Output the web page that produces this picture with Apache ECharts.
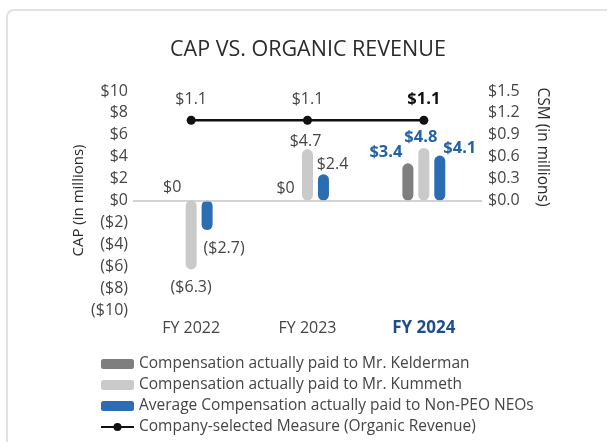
<!DOCTYPE html>
<html>
<head>
<meta charset="UTF-8">
<title>CAP vs. Organic Revenue</title>
<script src="https://cdn.jsdelivr.net/npm/echarts@6/dist/echarts.min.js"></script>
<style>
  html, body { margin: 0; padding: 0; background: #fff; }
  #wrap { position: relative; width: 607px; height: 442px; overflow: hidden; }
  #card { position: absolute; left: 6px; top: 9px; width: 700px; height: 500px;
          border: 2px solid #e2e2e2; border-radius: 8px; box-sizing: border-box; }
  #chart { position: absolute; left: 0; top: 0; width: 607px; height: 442px; }
</style>
</head>
<body>
<div id="wrap">
  <div id="card"></div>
  <div id="chart"></div>
</div>
<script>
  var years = ['FY 2022', 'FY 2023', 'FY 2024'];
  var kelderman = [0, 0, 3.4];
  var kummeth = [-6.3, 4.7, 4.8];
  var nonPeo = [-2.7, 2.4, 4.1];
  var organicRevenue = [1.1, 1.1, 1.1];

  var textColor = '#454545';
  var blueText = '#2462a8';
  var font = 'Open Sans';

  function money(v) {
    return v < 0 ? '($' + (-v) + ')' : '$' + v;
  }

  // per-bar label tweaks to sit like the original
  function barData(values, labels) {
    return values.map(function (v, i) {
      var item = { value: v };
      if (labels[i]) item.label = labels[i];
      return item;
    });
  }

  var boldBlue = { color: blueText, fontWeight: 'bold', fontSize: 16.5 };

  var chart = echarts.init(document.getElementById('chart'));
  chart.setOption({
    animation: false,
    textStyle: { fontFamily: font },
    title: {
      text: 'CAP VS. ORGANIC REVENUE',
      left: 165,
      top: 34,
      textStyle: { fontFamily: font, fontSize: 21.5, fontWeight: 'normal', color: '#2b2b2b' }
    },
    grid: { left: 133, right: 125, top: 91, height: 219 },
    legend: {
      orient: 'vertical',
      left: 95,
      top: 351,
      itemWidth: 33,
      itemHeight: 10,
      itemGap: 5,
      textStyle: { fontFamily: font, fontSize: 15.5, color: textColor },
      data: [
        { name: 'Compensation actually paid to Mr. Kelderman', icon: 'roundRect' },
        { name: 'Compensation actually paid to Mr. Kummeth', icon: 'roundRect' },
        { name: 'Average Compensation actually paid to Non-PEO NEOs', icon: 'roundRect' },
        { name: 'Company-selected Measure (Organic Revenue)' }
      ]
    },
    xAxis: {
      type: 'category',
      data: years,
      axisLine: { show: false, onZero: false },
      axisTick: { show: false },
      axisLabel: {
        margin: 10,
        fontSize: 16,
        color: textColor,
        formatter: function (v) {
          return v === 'FY 2024' ? '{b|' + v + '}' : v;
        },
        rich: { b: { fontWeight: 'bold', color: '#1f4d8a', fontSize: 17, fontFamily: font } }
      }
    },
    yAxis: [
      {
        type: 'value',
        min: -10, max: 10, interval: 2,
        name: 'CAP (in millions)',
        nameLocation: 'middle',
        nameGap: 47,
        nameMoveOverlap: false,
        nameTextStyle: { fontFamily: font, fontSize: 15, color: '#2b2b2b' },
        axisLine: { show: false },
        axisTick: { show: false },
        splitLine: { show: false },
        axisLabel: { margin: 5, fontSize: 16, color: textColor, formatter: money }
      },
      {
        type: 'value',
        min: -1.5, max: 1.5, interval: 0.3,
        axisLine: { show: false },
        axisTick: { show: false },
        splitLine: { show: false },
        axisLabel: {
          margin: 6, fontSize: 16, color: textColor,
          formatter: function (v) { return v < -0.01 ? '' : '$' + Math.abs(v).toFixed(1); }
        }
      }
    ],
    graphic: [{
      type: 'text',
      x: 542, y: 147,
      rotation: -Math.PI / 2,
      style: {
        text: 'CSM (in millions)',
        font: '15.5px "Open Sans"',
        fill: '#2b2b2b',
        align: 'center',
        verticalAlign: 'middle'
      }
    }],
    series: [
      {
        name: 'Compensation actually paid to Mr. Kelderman',
        type: 'bar',
        barWidth: 11,
        barGap: '45%',
        itemStyle: { color: '#7f7f80', borderRadius: 5.5 },
        label: { show: true, position: 'top', distance: 6, fontSize: 16, color: textColor, formatter: function (p) { return money(p.value); } },
        data: barData(kelderman, [
          { offset: [-3, 1] },
          { offset: [-6, 2] },
          Object.assign({ offset: [-22, 4] }, boldBlue)
        ]),
        markLine: {
          silent: true,
          symbol: 'none',
          label: { show: false },
          lineStyle: { color: '#c4c4c4', type: 'solid', width: 1.5 },
          data: [{ yAxis: 0 }]
        }
      },
      {
        name: 'Compensation actually paid to Mr. Kummeth',
        type: 'bar',
        barWidth: 11,
        itemStyle: { color: '#cacaca', borderRadius: 5.5 },
        label: { show: true, position: 'top', distance: 5, fontSize: 16, color: textColor, formatter: function (p) { return money(p.value); } },
        data: barData(kummeth, [
          { position: 'bottom', distance: 10 },
          { offset: [-2, 5] },
          Object.assign({ offset: [-3, 3] }, boldBlue)
        ])
      },
      {
        name: 'Average Compensation actually paid to Non-PEO NEOs',
        type: 'bar',
        barWidth: 11,
        itemStyle: { color: '#2a6db2', borderRadius: 5.5 },
        label: { show: true, position: 'top', distance: 5, fontSize: 16, color: textColor, formatter: function (p) { return money(p.value); } },
        data: barData(nonPeo, [
          { position: 'bottom', distance: 4, offset: [17, 6] },
          { offset: [9, 3] },
          Object.assign({ offset: [20, 6] }, boldBlue)
        ])
      },
      {
        name: 'Company-selected Measure (Organic Revenue)',
        type: 'line',
        yAxisIndex: 1,
        symbol: 'circle',
        symbolSize: 9,
        itemStyle: { color: '#111' },
        lineStyle: { color: '#111', width: 2.5 },
        label: {
          show: true, position: 'top', distance: 8, fontSize: 16, color: textColor,
          formatter: function (p) { return '$' + p.value; }
        },
        data: organicRevenue.map(function (v, i) {
          return i === 2 ? { value: v, label: { fontWeight: 'bold', color: '#111', fontSize: 16.5 } } : v;
        })
      }
    ]
  });
</script>
</body>
</html>
